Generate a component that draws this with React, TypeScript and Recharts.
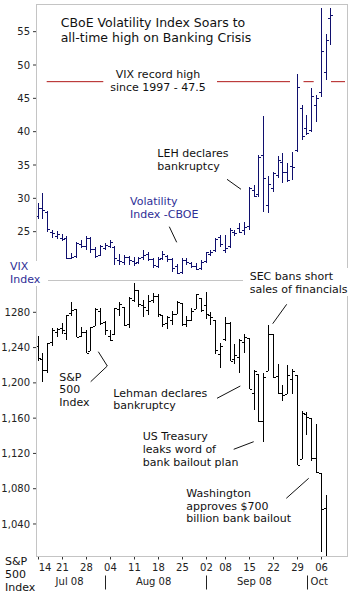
import React from 'react';
import { ComposedChart, Bar, XAxis, YAxis, ReferenceLine } from 'recharts';

// ---------- data ----------
const dates = [
  'Jul 14', 'Jul 15', 'Jul 16', 'Jul 17', 'Jul 18', 'Jul 21', 'Jul 22', 'Jul 23', 'Jul 24', 'Jul 25', 'Jul 28', 'Jul 29', 'Jul 30', 'Jul 31',
  'Aug 1', 'Aug 4', 'Aug 5', 'Aug 6', 'Aug 7', 'Aug 8', 'Aug 11', 'Aug 12', 'Aug 13', 'Aug 14', 'Aug 15', 'Aug 18', 'Aug 19', 'Aug 20', 'Aug 21', 'Aug 22', 'Aug 25', 'Aug 26', 'Aug 27', 'Aug 28', 'Aug 29',
  'Sep 2', 'Sep 3', 'Sep 4', 'Sep 5', 'Sep 8', 'Sep 9', 'Sep 10', 'Sep 11', 'Sep 12', 'Sep 15', 'Sep 16', 'Sep 17', 'Sep 18', 'Sep 19', 'Sep 22', 'Sep 23', 'Sep 24', 'Sep 25', 'Sep 26', 'Sep 29', 'Sep 30',
  'Oct 1', 'Oct 2', 'Oct 3', 'Oct 6', 'Oct 7', 'Oct 8',
];

const vixOpen = [
  27.4, 28.5, 27.9, 25.0, 24.4, 24.0, 24.0, 21.0, 21.4, 23.1, 22.9, 24.0, 22.4, 21.5,
  22.6, 22.9, 22.7, 20.8, 20.4, 21.2, 20.6, 20.4, 21.2, 21.6, 20.9, 19.8, 21.1, 21.3, 20.9, 19.8, 19.0, 20.8, 20.3, 19.9, 19.6,
  20.6, 21.7, 22.2, 24.2, 22.3, 22.8, 25.0, 25.6, 25.2, 25.8, 31.3, 30.6, 36.5, 29.0, 31.5, 33.5, 35.5, 34.0, 34.8, 37.2, 43.5,
  40.5, 40.2, 44.0, 46.0, 49.0, 57.0,
];
const vixHigh = [
  29.3, 30.8, 28.1, 25.3, 25.1, 24.7, 24.3, 21.8, 23.5, 23.7, 24.4, 24.2, 22.7, 23.0,
  23.3, 23.7, 22.8, 21.7, 21.5, 21.4, 21.2, 21.2, 22.2, 22.0, 21.0, 21.2, 22.1, 21.5, 21.0, 20.2, 21.0, 21.1, 20.5, 20.3, 20.8,
  22.0, 22.3, 24.0, 24.5, 24.5, 25.5, 25.3, 26.3, 26.5, 31.75, 32.0, 36.5, 42.3, 33.3, 34.0, 36.3, 36.8, 35.3, 37.0, 48.65, 44.0,
  42.5, 46.6, 45.5, 58.5, 54.7, 58.5,
];
const vixLow = [
  26.9, 26.9, 25.0, 24.1, 23.9, 23.6, 20.9, 20.9, 21.0, 22.5, 22.3, 21.8, 21.0, 21.3,
  22.2, 22.5, 20.0, 20.0, 20.0, 20.0, 19.8, 20.2, 20.8, 20.6, 19.5, 19.6, 20.7, 20.5, 19.0, 18.6, 18.7, 20.0, 19.5, 19.2, 19.3,
  20.3, 21.3, 22.0, 22.7, 21.8, 22.6, 24.3, 24.8, 24.5, 25.3, 30.2, 30.2, 28.0, 27.8, 31.0, 33.0, 32.3, 32.5, 32.7, 37.0, 38.7,
  39.5, 40.0, 41.5, 45.2, 47.8, 53.0,
];
const vixClose = [
  28.5, 28.2, 25.4, 24.8, 24.6, 23.9, 21.1, 21.2, 23.3, 22.9, 24.1, 22.4, 21.4, 22.9,
  23.0, 23.4, 21.0, 20.6, 21.2, 20.8, 20.3, 21.0, 21.5, 20.9, 20.0, 20.9, 21.6, 20.9, 19.6, 18.8, 20.8, 20.4, 19.8, 19.4, 20.5,
  21.9, 22.0, 23.9, 23.1, 22.6, 25.3, 24.8, 24.9, 25.7, 31.5, 30.4, 36.2, 33.1, 32.1, 33.8, 35.7, 33.9, 32.8, 34.7, 46.7, 39.4,
  39.8, 45.3, 45.1, 52.1, 53.7, 57.5,
];

const spxOpen = [
  1241.61, 1226.83, 1214.65, 1246.31, 1258.22, 1261.82, 1257.08, 1278.87, 1283.22, 1253.51, 1257.76, 1236.38, 1264.52, 1281.37,
  1269.42, 1253.27, 1254.87, 1283.99, 1286.51, 1266.29, 1294.42, 1304.79, 1288.64, 1282.11, 1293.85, 1298.14, 1276.65, 1267.34, 1271.07, 1277.59, 1290.47, 1267.03, 1271.29, 1283.79, 1296.49,
  1287.83, 1276.61, 1271.80, 1233.21, 1249.50, 1267.98, 1227.50, 1229.04, 1245.88, 1250.92, 1188.31, 1210.34, 1157.08, 1213.11, 1255.37, 1207.61, 1188.79, 1187.87, 1204.47, 1209.07, 1113.78,
  1164.17, 1160.64, 1115.16, 1097.56, 1057.60,
];
const spxHigh = [
  1253.50, 1234.35, 1245.52, 1262.31, 1262.23, 1267.74, 1277.42, 1291.17, 1283.22, 1263.23, 1260.09, 1263.20, 1284.33, 1284.93,
  1270.52, 1260.49, 1284.88, 1291.67, 1286.51, 1297.85, 1313.15, 1304.79, 1294.03, 1300.11, 1302.05, 1300.22, 1276.65, 1276.01, 1281.40, 1293.09, 1290.47, 1275.65, 1285.05, 1300.68, 1296.49,
  1303.04, 1280.60, 1271.80, 1244.94, 1274.42, 1268.66, 1243.90, 1249.98, 1255.09, 1250.92, 1214.84, 1210.34, 1211.14, 1265.12, 1255.37, 1221.15, 1197.41, 1220.03, 1215.77, 1209.07, 1168.03,
  1167.03, 1160.64, 1153.82, 1097.56, 1072.91,
];
const spxLow = [
  1225.01, 1200.44, 1211.39, 1241.49, 1251.81, 1255.70, 1248.83, 1276.06, 1251.48, 1251.75, 1234.37, 1236.38, 1264.52, 1265.97,
  1254.54, 1247.45, 1254.67, 1276.00, 1264.29, 1262.11, 1291.41, 1285.64, 1274.86, 1276.84, 1290.74, 1274.51, 1263.11, 1261.16, 1265.22, 1277.59, 1264.87, 1263.21, 1270.03, 1283.79, 1280.50,
  1272.20, 1265.59, 1232.83, 1217.23, 1247.12, 1224.51, 1221.60, 1211.54, 1233.81, 1192.70, 1169.28, 1155.88, 1133.50, 1213.11, 1205.61, 1187.06, 1179.79, 1187.87, 1187.54, 1106.42, 1113.78,
  1140.77, 1111.43, 1098.14, 1007.97, 996.23,
];
const spxClose = [
  1228.30, 1214.91, 1245.36, 1260.32, 1260.68, 1260.00, 1277.00, 1282.19, 1252.54, 1257.76, 1234.37, 1263.20, 1284.26, 1267.38,
  1260.31, 1249.01, 1284.88, 1289.19, 1266.07, 1296.32, 1305.32, 1289.59, 1285.83, 1292.93, 1298.20, 1278.60, 1266.69, 1274.54, 1277.72, 1292.20, 1266.84, 1271.51, 1281.66, 1300.68, 1282.83,
  1277.58, 1274.98, 1236.83, 1242.31, 1267.79, 1224.51, 1232.04, 1249.05, 1251.70, 1192.70, 1213.60, 1156.39, 1206.51, 1255.08, 1207.09, 1188.22, 1185.87, 1209.18, 1213.27, 1106.42, 1166.36,
  1161.06, 1114.28, 1099.23, 1056.89, 996.23,
];

const vixTicks = [25, 30, 35, 40, 45, 50, 55];
const spxTicks = [1040, 1080, 1120, 1160, 1200, 1240, 1280];
const spxTickLabels = ['1,040', '1,080', '1,120', '1,160', '1,200', '1,240', '1280'];

const weekTicks = ['Jul 14', 'Jul 21', 'Jul 28', 'Aug 4', 'Aug 11', 'Aug 18', 'Aug 25', 'Sep 2', 'Sep 8', 'Sep 15', 'Sep 22', 'Sep 29', 'Oct 6'];
const weekLabels = ['14', '21', '28', '04', '11', '18', '25', '02', '08', '15', '22', '29', '06'];
const monthFirst = ['Jul 14', 'Aug 1', 'Sep 2', 'Oct 1'];
const monthNames = ['Jul 08', 'Aug 08', 'Sep 08', 'Oct'];
const monthPrefixes = ['Jul', 'Aug', 'Sep', 'Oct'];

const VIX_RECORD = 47.5;

// ---------- derived tables ----------
const vixData = dates.map((d, i) => ({ d, o: vixOpen[i], h: vixHigh[i], l: vixLow[i], c: vixClose[i] }));
const spxData = dates.map((d, i) =>
  i < spxClose.length ? { d, o: spxOpen[i], h: spxHigh[i], l: spxLow[i], c: spxClose[i] } : { d }
);
const monthDays = monthPrefixes.map((m) => dates.filter((d) => d.startsWith(m)).length);
const xTicks = dates.filter((d) => weekTicks.includes(d) || monthFirst.includes(d));
const rangeKey = (p: any) => (p.h == null ? null : [p.l, p.h]);

const FONT = "'DejaVu Sans', Verdana, sans-serif";
const VIX_COLOR = '#10106e';
const NAVY_TEXT = '#2e2e96';

function OHLCShape(props: any) {
  const { x, y, width, height, payload, color } = props;
  if (!payload || payload.h == null || x == null || y == null || isNaN(y)) return <g />;
  const top = Math.min(y, y + height);
  const bottom = Math.max(y, y + height);
  const { o, h, l, c } = payload;
  const span = h - l || 1;
  const yOf = (v: number) => top + ((h - v) / span) * (bottom - top);
  const cx = Math.floor(x + width / 2);
  const t = Math.round(top);
  const b = Math.round(bottom);
  return (
    <g shapeRendering="crispEdges" fill={color}>
      <rect x={cx} y={t} width={1} height={Math.max(1, b - t)} />
      <rect x={cx - 2} y={Math.round(yOf(o))} width={2} height={1} />
      <rect x={cx + 1} y={Math.round(yOf(c))} width={2} height={1} />
    </g>
  );
}

function DateTick(props: any) {
  const { x, y, payload } = props;
  const v = payload.value;
  const half = typeof payload.offset === 'number' && payload.offset > 0 ? payload.offset : 2.4;
  const wi = weekTicks.indexOf(v);
  const mi = monthFirst.indexOf(v);
  const X = Math.floor(x) + 0.5;
  return (
    <g>
      {wi >= 0 && <line x1={X} x2={X} y1={y} y2={y + 3.5} stroke="#333" />}
      {wi >= 0 && (
        <text x={x + (wi === 0 ? 6.6 : 0)} y={y + 15} textAnchor="middle" fontSize={10} fill="#222" fontFamily={FONT}>
          {weekLabels[wi]}
        </text>
      )}
      {mi > 0 && <line x1={X} x2={X} y1={y + 19.5} y2={y + 33.5} stroke="#222" />}
      {mi >= 0 && (
        <text x={x + (monthDays[mi] - 1) * half} y={y + 28.6} textAnchor="middle" fontSize={10} fill="#222" fontFamily={FONT}>
          {monthNames[mi]}
        </text>
      )}
    </g>
  );
}

const Label = ({ x, y, lines, color = '#111', size = 11, anchor = 'start', lh = 12.8 }: any) => (
  <text x={x} y={y} fontSize={size} fill={color} fontFamily={FONT} textAnchor={anchor}>
    {lines.map((t: string, i: number) => (
      <tspan key={i} x={x} dy={i === 0 ? 0 : lh}>
        {t}
      </tspan>
    ))}
  </text>
);

export default function App() {
  const xPad = { left: 0, right: 13.4 };
  return (
    <div style={{ position: 'absolute', left: 0, top: 0, width: 354, height: 598, background: '#fff', fontFamily: FONT }}>
      <div style={{ position: 'absolute', left: 0, top: 0 }}>
        <ComposedChart width={354} height={281} data={vixData} margin={{ top: 4, right: 7, bottom: 0, left: 0 }}>
          <XAxis dataKey="d" hide padding={xPad} />
          <YAxis
            domain={[17.6, 59.15]}
            ticks={vixTicks}
            allowDataOverflow
            width={36}
            tickSize={3}
            tickMargin={3}
            axisLine={false}
            tickLine={{ stroke: '#333' }}
            tick={{ fontSize: 10, fill: '#222' }}
          />
          <ReferenceLine
            y={VIX_RECORD}
            stroke="#b01818"
            strokeWidth={1}
            strokeDasharray="0 10.7 56.6 113.7 73 13.5 10.2 17.3 14 20"
            ifOverflow="hidden"
          />
          <Bar
            dataKey={rangeKey}
            barSize={4}
            isAnimationActive={false}
            shape={(p: any) => <OHLCShape {...p} color={VIX_COLOR} />}
          />
        </ComposedChart>
      </div>
      <div style={{ position: 'absolute', left: 0, top: 281 }}>
        <ComposedChart width={354} height={317} data={spxData} margin={{ top: 0, right: 7, bottom: 0, left: 0 }}>
          <XAxis
            dataKey="d"
            padding={xPad}
            height={42}
            ticks={xTicks}
            interval={0}
            tickSize={0}
            tickMargin={0}
            tickLine={false}
            axisLine={false}
            tick={(p: any) => <DateTick {...p} />}
          />
          <YAxis
            domain={[1003.7, 1315.5]}
            ticks={spxTicks}
            allowDataOverflow
            width={36}
            tickSize={3}
            tickMargin={3}
            axisLine={false}
            tickLine={{ stroke: '#333' }}
            tick={{ fontSize: 10, fill: '#222' }}
            tickFormatter={(v: number) => spxTickLabels[spxTicks.indexOf(v)] ?? String(v)}
          />
          <Bar
            dataKey={rangeKey}
            barSize={4}
            isAnimationActive={false}
            shape={(p: any) => <OHLCShape {...p} color="#000" />}
          />
        </ComposedChart>
      </div>
      <svg
        width={354}
        height={598}
        style={{ position: 'absolute', left: 0, top: 0, pointerEvents: 'none' }}
      >
        {/* frame */}
        <rect x={36.5} y={4.5} width={311} height={552} fill="none" stroke="#c4c4c4" />
        <line x1={36} x2={347} y1={280.5} y2={280.5} stroke="#c4c4c4" />

        {/* title */}
        <Label x={60.7} y={27.3} lines={['CBoE Volatility Index Soars to', 'all-time high on Banking Crisis']} size={12.5} lh={14.7} />

        {/* record line label */}
        <rect x={104} y={67} width={112} height={28} fill="#fff" />
        <Label x={158} y={78} anchor="middle" lines={['VIX record high', 'since 1997 - 47.5']} />

        {/* LEH */}
        <Label x={157.3} y={157.3} lines={['LEH declares', 'bankruptcy']} />
        <line x1={227} y1={179.3} x2={241} y2={189.3} stroke="#111" />

        {/* Volatility Index */}
        <Label x={130} y={204.8} lines={['Volatility', 'Index -CBOE']} color={NAVY_TEXT} />
        <line x1={169.3} y1={226.7} x2={176.7} y2={242.3} stroke="#111" />

        {/* VIX Index */}
        <rect x={8} y={261} width={40} height={25} fill="#fff" />
        <Label x={10} y={269.8} lines={['VIX', 'Index']} color={NAVY_TEXT} />

        {/* SEC */}
        <rect x={243} y={268} width={111} height={28} fill="#fff" />
        <Label x={249.7} y={279.8} lines={['SEC bans short', 'sales of financials']} />
        <line x1={286.7} y1={304.3} x2={272.7} y2={323.7} stroke="#111" />

        {/* S&P 500 Index */}
        <Label x={59.3} y={380.5} lines={['S&P', '500', 'Index']} />
        <polyline points="90.7,381.7 107.3,366 98.3,351.7" fill="none" stroke="#111" />

        {/* Lehman */}
        <Label x={113.3} y={396.5} lines={['Lehman declares', 'bankruptcy']} />
        <line x1={217} y1={398.3} x2={240.3} y2={386} stroke="#111" />

        {/* US Treasury */}
        <Label x={142.7} y={440} lines={['US Treasury', 'leaks word of', 'bank bailout plan']} />
        <line x1={233.7} y1={449.3} x2={253.7} y2={441.7} stroke="#111" />

        {/* Washington */}
        <Label x={186.3} y={496.7} lines={['Washington', 'approves $700', 'billion bank bailout']} />
        <line x1={286.3} y1={498.3} x2={308.7} y2={478.3} stroke="#111" />

        {/* bottom-left axis caption */}
        <Label x={5} y={565} lines={['S&P', '500', 'Index']} />
      </svg>
    </div>
  );
}
